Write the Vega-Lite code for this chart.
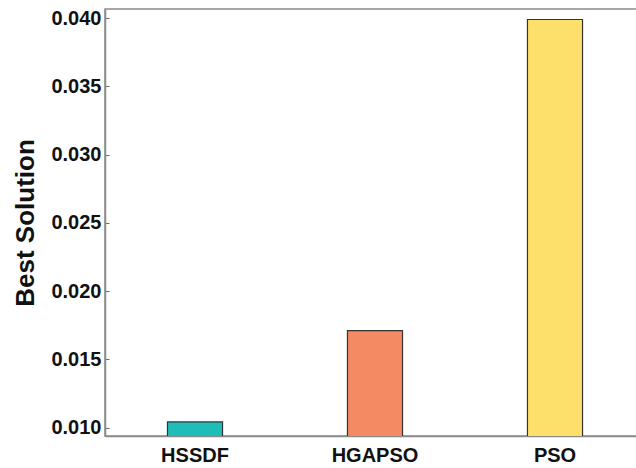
{
  "$schema": "https://vega.github.io/schema/vega-lite/v6.json",
  "width": 540,
  "height": 427,
  "autosize": {"type": "none"},
  "padding": {"left": 105, "top": 9, "right": 0, "bottom": 32},
  "background": "white",
  "config": {
    "view": {"stroke": "#8a8a8a", "strokeWidth": 1.5},
    "font": "Liberation Sans"
  },
  "data": {
    "values": [
      {"algorithm": "HSSDF", "best": 0.01042},
      {"algorithm": "HGAPSO", "best": 0.01711},
      {"algorithm": "PSO", "best": 0.03989}
    ]
  },
  "mark": {"type": "bar", "stroke": "#333333", "strokeWidth": 1.2, "clip": true},
  "encoding": {
    "x": {
      "field": "algorithm",
      "type": "nominal",
      "sort": ["HSSDF", "HGAPSO", "PSO"],
      "scale": {"paddingInner": 0.694, "paddingOuter": 0.347},
      "axis": {
        "title": null,
        "labelAngle": 0,
        "labelFont": "Liberation Sans",
        "labelFontSize": 20,
        "labelFontWeight": "bold",
        "labelColor": "#111111",
        "labelPadding": 13,
        "tickSize": -4,
        "tickColor": "#666666",
        "tickWidth": 1,
        "domainColor": "#8a8a8a",
        "domainWidth": 1.5
      }
    },
    "y": {
      "field": "best",
      "type": "quantitative",
      "scale": {"domain": [0.00939, 0.04066], "zero": false, "nice": false},
      "axis": {
        "title": "Best Solution",
        "titleFont": "Liberation Sans",
        "titleFontSize": 26,
        "titleFontWeight": "bold",
        "titleColor": "#111111",
        "titlePadding": 12,
        "values": [0.010, 0.015, 0.020, 0.025, 0.030, 0.035, 0.040],
        "format": ".3f",
        "grid": false,
        "labelFont": "Liberation Sans",
        "labelFontSize": 20,
        "labelFontWeight": "bold",
        "labelColor": "#111111",
        "labelPadding": 8,
        "tickSize": -4,
        "tickColor": "#666666",
        "tickWidth": 1,
        "domainColor": "#8a8a8a",
        "domainWidth": 1.5
      }
    },
    "color": {
      "field": "algorithm",
      "type": "nominal",
      "scale": {"domain": ["HSSDF", "HGAPSO", "PSO"], "range": ["#1fbdb7", "#f38a63", "#fce06b"]},
      "legend": null
    }
  }
}
